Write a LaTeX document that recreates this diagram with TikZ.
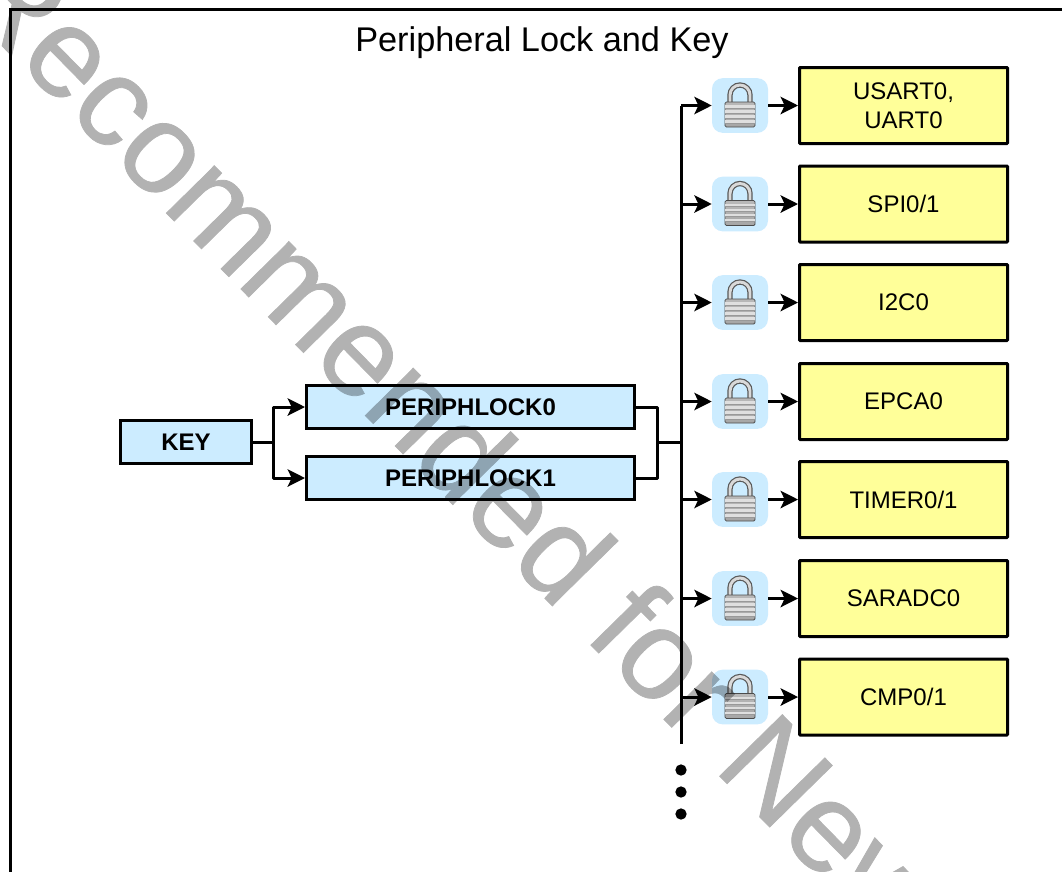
\documentclass[tikz,border=0pt]{standalone}
\usepackage{fontspec}
\setmainfont{Liberation Sans}
\newfontfamily\wmfont[FakeBold=0.6]{Liberation Sans}
\usetikzlibrary{arrows.meta}
\definecolor{boxblue}{RGB}{204,236,255}
\definecolor{boxyellow}{RGB}{255,255,153}
\tikzset{
  x=0.75pt,y=-0.75pt,
  conn/.style={line width=2.25pt,black,line join=round},
  arr/.style={conn,-{Stealth[length=13pt,width=13pt,inset=3pt]}},
  periph/.style={draw=black,line width=2.25pt,fill=boxyellow,minimum width=156pt,minimum height=57pt,inner sep=0pt,align=center,font=\fontsize{18}{22}\selectfont,rounded corners=0.5pt},
  keybox/.style={draw=black,line width=2.25pt,fill=boxblue,minimum height=32pt,inner sep=0pt,font=\fontsize{18}{22}\selectfont\bfseries},
  lockbg/.style={fill=boxblue,rounded corners=8pt,minimum width=42pt,minimum height=41pt,inner sep=0pt},
  dot/.style={circle,fill=black,minimum size=8.5pt,inner sep=0pt},
}
\newcommand{\padlock}[1]{%
  \begin{scope}[shift={(#1)}]
    % shackle
    \draw[line width=4pt,gray!70!black] (-10,1) -- (-10,-7) arc[start angle=180,end angle=0,x radius=10,y radius=-10] -- (10,1);
    \draw[line width=2.2pt,gray!30] (-10,1) -- (-10,-7) arc[start angle=180,end angle=0,x radius=10,y radius=-10] -- (10,1);
    % body
    \shade[top color=gray!55,bottom color=gray!70,draw=gray!60!black,line width=0.6pt,rounded corners=1pt] (-15,0) rectangle (15,25);
    \foreach \s in {4,9,14,19}{
      \fill[gray!25] (-15,\s-1) rectangle (15,\s+1.5);
      \fill[gray!80] (-15,\s+1.5) rectangle (15,\s+2.6);
    }
  \end{scope}}
\begin{document}
\begin{tikzpicture}
\useasboundingbox (0,0) rectangle (1062,871);
\fill[white] (0,0) rectangle (1062,871);
% frame
\coordinate (ftl) at (10,9);
\coordinate (ftr) at (1062,9);
\coordinate (fbl) at (10,871);
\draw[line width=2.25pt,line cap=rect] (ftr) -- (ftl) -- (fbl);
\node[font=\fontsize{25.7}{30}\selectfont,anchor=center] (title) at (542,42.5) {Peripheral Lock and Key};
% left part
\node[keybox,minimum width=98pt] (key) at (186,442) {KEY};
\node[keybox,minimum width=246pt] (pl0) at (470.5,407) {PERIPHLOCK0};
\node[keybox,minimum width=246pt] (pl1) at (470.5,478) {PERIPHLOCK1};
\coordinate (jl) at (273,442);
\coordinate (jr) at (657,442);
\coordinate (bustop) at (681,105.5);
\coordinate (busbot) at (681,744);
\coordinate (busj) at (681,442);
\draw[conn] (key.east) -- (jl);
\draw[arr] (jl) |- (pl0.west);
\draw[arr] (jl) |- (pl1.west);
\draw[conn] (pl0.east) -| (jr);
\draw[conn] (pl1.east) -| (jr);
\draw[conn] (jr) -- (busj);
\draw[conn] (busbot) -- (bustop);
% peripherals
\foreach \i/\yy/\txt in {1/105.5/{USART0,\\UART0},2/204/{SPI0/1},3/302.5/{I2C0},4/401.5/{EPCA0},5/499.5/{TIMER0/1},6/598.5/{SARADC0},7/697/{CMP0/1}}{
  \node[periph] (p\i) at (903.5,\yy) {\txt};
  \node[lockbg] (l\i) at (740,\yy) {};
  \padlock{740,\yy-3.5}
  \coordinate (b\i) at (681,\yy);
  \draw[arr] (b\i) -- (l\i.west);
  \draw[arr] (l\i.east) -- (p\i.west);
}
\node[dot] (d1) at (681,770) {};
\node[dot] (d2) at (681,792) {};
\node[dot] (d3) at (681,814) {};
% watermark
\begin{scope}[transparency group,opacity=0.3]
\node[anchor=base west,rotate=-45.5,inner sep=0pt,text=black,font=\wmfont\fontsize{95.8}{100}\selectfont] (wm) at (-49,-6) {Recommended for New};
\end{scope}
\end{tikzpicture}
\end{document}
